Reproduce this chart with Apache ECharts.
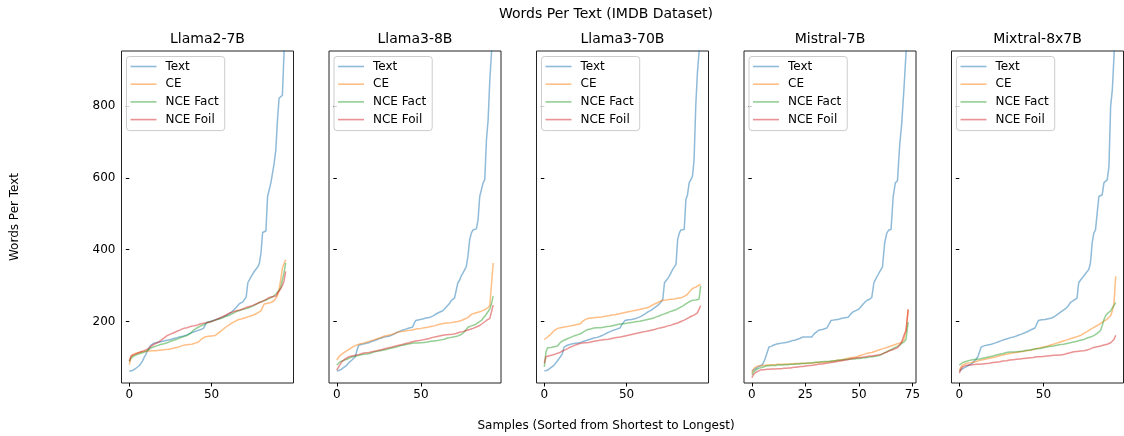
<!DOCTYPE html>
<html>
<head>
<meta charset="utf-8">
<script src="https://cdn.jsdelivr.net/npm/echarts@6/dist/echarts.min.js"></script>
<style>
  html, body { margin: 0; padding: 0; background: #fff; }
  #chart { width: 1124px; height: 436px; }
</style>
</head>
<body>
<div id="chart"></div>
<script>
// ---------------- DATA ----------------
const panelNames = ['Llama2-7B', 'Llama3-8B', 'Llama3-70B', 'Mistral-7B', 'Mixtral-8x7B'];
const seriesNames = ['Text', 'CE', 'NCE Fact', 'NCE Foil'];
const yTicks = [200, 400, 600, 800];
const xTicksDefault = [0, 50];
const xTicksMistral = [0, 25, 50, 75];

const llama2Text = [62,62,64,66,70,74,77,80,90,100,108,118,126,134,138,140,141,142,143,144,145,146,147,148,149,150,151,153,154,155,156,158,159,160,161,163,165,167,169,171,172,174,175,177,179,181,182,198,199,200,201,203,205,206,207,209,211,213,215,217,218,222,226,230,235,240,245,250,253,255,262,268,308,312,325,333,340,345,352,362,391,448,451,452,548,550,586,588,640,678,760,822,826,830,948,1100];
const llama2CE = [80,100,108,111,112,113,114,115,116,117,117,118,118,118,119,119,119,120,120,121,121,122,122,123,123,124,125,126,127,128,129,131,133,134,135,136,136,137,137,138,140,142,143,148,152,155,157,158,159,159,160,160,161,165,168,172,175,179,182,186,189,192,195,198,200,203,205,206,207,208,210,212,213,215,216,218,219,221,224,227,230,240,249,250,251,252,253,255,258,265,272,290,317,349,352,372];
const llama2Fact = [88,98,102,105,108,109,110,112,113,115,116,119,122,126,129,130,131,133,134,136,137,138,140,141,143,145,146,148,150,151,153,155,157,158,160,161,163,167,172,176,180,182,185,187,189,191,194,196,198,199,201,202,204,205,207,208,210,211,213,215,216,218,221,223,225,228,230,231,233,234,235,236,237,239,241,243,246,248,251,253,255,256,258,260,262,264,266,269,271,276,281,287,294,315,336,363];
const llama2Foil = [90,104,106,108,110,112,114,116,117,119,120,123,127,130,134,137,139,141,143,147,150,154,158,161,163,165,167,169,171,173,175,177,179,181,182,183,184,186,187,188,189,190,192,193,194,195,196,197,198,199,200,202,204,206,208,210,212,214,216,219,221,224,226,227,229,230,231,232,234,235,237,239,240,242,244,245,247,249,251,253,255,257,259,261,264,267,268,269,270,271,278,285,292,300,313,340];

const llama38Text = [62,63,65,68,72,76,79,85,90,93,98,102,120,134,136,137,138,139,140,141,143,145,147,148,150,152,153,155,157,158,158,159,160,163,166,168,171,172,174,176,178,179,180,182,183,184,195,203,204,205,206,207,209,210,210,211,212,215,218,221,224,226,228,230,235,240,244,250,258,262,265,267,308,315,327,335,344,353,382,427,446,455,456,458,483,548,552,586,595,706,762,873,948,1050];
const llama38CE = [93,100,106,110,113,116,119,122,125,128,131,134,135,136,138,139,140,142,143,145,146,148,149,150,152,153,155,157,159,160,161,162,163,164,166,168,170,171,172,172,173,174,175,175,176,177,178,179,180,181,181,182,183,183,184,185,186,187,188,190,191,192,193,194,195,195,196,197,197,198,199,199,200,201,203,205,207,209,211,215,220,221,223,224,226,228,229,230,233,236,239,245,250,363];
const llama38Fact = [79,84,88,90,92,93,95,97,100,102,103,104,105,106,107,108,109,109,110,111,112,113,115,116,117,118,119,120,121,122,123,124,126,127,128,129,130,131,133,134,135,136,137,138,139,139,140,140,140,141,141,142,142,143,143,144,145,146,146,147,147,148,149,150,151,152,154,155,156,157,158,159,160,162,164,166,172,178,184,186,188,189,191,194,197,200,203,209,215,221,228,235,250,271];
const llama38Foil = [65,73,81,88,93,96,99,102,103,104,105,106,107,108,110,111,112,113,114,114,115,116,117,118,119,120,121,122,124,125,126,127,128,129,131,132,133,134,135,136,138,139,140,141,142,144,145,146,147,147,148,149,150,151,152,153,155,156,157,158,159,160,161,162,163,163,164,164,165,165,166,167,168,170,171,172,174,175,177,178,180,181,183,185,187,189,192,196,199,203,206,209,212,246];

const llama370Text = [62,63,65,68,72,76,79,85,91,97,104,111,129,132,134,136,137,138,139,140,140,141,142,144,145,147,148,150,151,153,154,155,156,157,159,161,163,165,168,170,172,175,176,177,179,180,182,191,197,203,204,205,205,206,207,208,209,211,212,215,218,221,224,227,230,232,235,239,242,245,249,255,262,308,313,320,327,336,345,352,359,428,446,455,455,456,539,553,586,590,604,651,799,892,948,1100];
const llama370CE = [150,153,157,160,165,169,175,180,181,182,183,184,185,185,186,187,188,189,190,191,192,193,194,200,205,206,207,209,209,210,210,211,211,212,213,213,214,215,215,216,217,218,219,219,220,221,222,223,224,225,226,227,228,229,230,231,232,233,234,235,236,237,238,239,242,244,247,249,251,253,256,258,259,259,260,261,261,262,263,263,264,265,265,266,267,270,273,276,282,287,292,294,296,299,301,303];
const llama370Fact = [74,116,127,128,128,129,130,131,132,137,143,146,148,150,152,154,156,158,160,161,163,165,166,169,172,175,177,178,179,181,182,182,183,183,183,184,184,185,186,187,187,188,189,190,191,192,193,193,194,195,195,196,197,197,198,199,200,201,201,202,203,204,205,206,207,208,209,211,213,215,216,218,220,222,223,225,227,229,230,232,233,235,238,241,243,246,249,252,255,258,259,259,260,261,262,299];
const llama370Foil = [84,102,104,105,106,107,108,110,111,113,115,118,120,122,125,127,129,131,133,135,136,138,139,140,140,141,142,142,143,144,145,146,146,147,148,149,149,150,151,151,152,153,154,155,155,156,157,158,159,160,161,162,163,164,165,166,167,168,169,170,171,172,173,174,175,176,177,178,180,181,182,183,184,185,186,188,189,190,192,193,195,196,198,200,202,204,206,209,211,214,216,218,221,224,227,244];

const mistralText = [62,66,70,74,77,81,93,111,129,131,134,136,138,139,140,141,142,143,145,147,148,150,152,155,157,157,157,157,157,165,170,175,177,178,180,182,192,203,204,205,206,207,209,210,211,212,220,226,229,232,235,242,249,255,260,262,267,308,320,331,342,352,418,446,455,456,548,586,592,688,753,845,948,1100];
const mistralCE = [56,70,74,76,77,78,78,79,79,80,80,80,81,81,81,81,82,82,82,82,83,83,83,83,84,84,84,85,85,85,86,86,86,87,87,88,88,89,90,91,92,93,94,95,96,98,99,100,101,102,104,106,108,110,112,113,114,116,118,120,122,124,126,128,130,132,134,136,138,140,143,150,175,232];
const mistralFact = [52,60,66,69,71,73,75,77,77,78,78,78,79,79,79,80,80,80,81,81,81,82,82,83,83,83,84,85,85,86,87,87,88,88,89,89,89,90,90,91,92,92,93,94,95,95,96,96,96,97,97,98,99,99,100,101,102,103,104,105,107,110,113,116,119,122,125,128,131,134,139,143,150,198];
const mistralFoil = [44,54,59,62,65,66,66,67,67,68,68,68,69,69,69,70,70,71,71,72,73,73,74,75,75,76,77,78,78,79,80,81,82,82,83,84,85,86,87,88,89,90,91,92,93,94,96,97,98,99,99,100,101,102,103,104,104,105,106,107,108,110,113,115,118,120,122,125,127,135,143,162,175,235];

const mixtralText = [62,65,69,71,74,77,79,82,85,88,95,102,115,129,131,133,134,135,136,137,139,140,142,143,145,147,149,150,152,153,155,156,157,158,160,162,163,165,167,169,171,173,175,178,180,182,184,203,204,205,206,206,207,208,209,210,212,215,218,222,226,229,232,235,240,245,253,256,259,262,265,308,315,320,327,333,339,345,363,418,446,455,456,548,550,553,586,590,595,632,799,845,938,1100];
const mixtralCE = [65,73,79,81,83,84,85,86,87,88,89,90,92,93,94,95,96,97,98,99,100,101,102,104,105,106,107,108,109,110,111,112,113,113,114,115,116,117,117,118,119,119,120,121,122,123,125,126,127,128,129,130,131,133,134,135,137,138,140,141,143,144,146,147,149,150,152,153,155,156,158,160,161,164,167,169,172,175,178,181,184,186,189,192,195,198,201,204,207,212,216,230,250,326];
const mixtralFact = [79,83,86,88,89,90,92,93,94,94,95,95,96,97,98,99,100,101,102,103,104,106,107,108,109,110,111,112,114,114,115,115,115,116,116,117,117,118,118,119,120,120,121,122,123,123,124,125,125,126,127,128,129,130,131,131,132,133,134,135,136,137,137,138,139,140,141,142,143,144,145,146,148,149,150,152,154,155,157,159,161,164,167,171,175,189,205,216,222,226,230,238,245,253];
const mixtralFoil = [56,68,74,76,78,79,79,80,80,80,81,81,81,82,82,83,83,84,84,85,86,86,87,88,88,89,90,90,91,92,93,93,94,94,95,95,96,96,97,97,98,98,99,100,100,101,102,102,102,103,103,104,104,105,105,105,106,106,106,107,107,108,108,110,111,112,113,115,116,117,117,118,118,119,119,120,121,123,124,126,128,129,130,131,132,133,135,136,137,139,141,143,150,162];

const panelData = [
  [llama2Text, llama2CE, llama2Fact, llama2Foil],
  [llama38Text, llama38CE, llama38Fact, llama38Foil],
  [llama370Text, llama370CE, llama370Fact, llama370Foil],
  [mistralText, mistralCE, mistralFact, mistralFoil],
  [mixtralText, mixtralCE, mixtralFact, mixtralFoil]
];
const panelXTicks = [xTicksDefault, xTicksDefault, xTicksDefault, xTicksMistral, xTicksDefault];

// ---------------- LAYOUT / STYLE ----------------
const FONT = 'DejaVu Sans';
const COLORS = ['#1f77b4', '#ff7f0e', '#2ca02c', '#d62728'];
const LEGEND_COLORS = ['#8fbbd9', '#ffbf86', '#95cf95', '#ea9293'];
const PANEL_LEFTS = [121.5, 329, 536.5, 744, 951.5];
const PANEL_W = 172, PANEL_TOP = 51, PANEL_H = 332;
const Y_MIN = 29, Y_MAX = 953;

const grids = [], xAxes = [], yAxes = [], series = [], legends = [], graphics = [];

panelNames.forEach((name, p) => {
  const left = PANEL_LEFTS[p];
  const n = panelData[p][0].length;
  grids.push({
    left: left, top: PANEL_TOP, width: PANEL_W, height: PANEL_H,
    show: true, borderColor: '#222', borderWidth: 1, backgroundColor: 'transparent'
  });
  xAxes.push({
    type: 'value', gridIndex: p,
    min: -0.05 * (n - 1), max: 1.05 * (n - 1),
    axisLine: { show: false },
    splitLine: { show: false },
    axisTick: { show: true, length: 3.5, customValues: panelXTicks[p], lineStyle: { color: '#000', width: 1 } },
    axisLabel: { show: true, customValues: panelXTicks[p], margin: 6, fontFamily: FONT, fontSize: 12, color: '#000' }
  });
  yAxes.push({
    type: 'value', gridIndex: p,
    min: Y_MIN, max: Y_MAX,
    axisLine: { show: false },
    splitLine: { show: false },
    axisTick: { show: true, length: 3.5, customValues: yTicks, lineStyle: { color: '#000', width: 1 } },
    axisLabel: { show: p === 0, customValues: yTicks, margin: 6, fontFamily: FONT, fontSize: 12, color: '#000' }
  });
  seriesNames.forEach((sn, s) => {
    series.push({
      type: 'line', name: sn, xAxisIndex: p, yAxisIndex: p,
      data: panelData[p][s].map((v, i) => [i, v]),
      symbol: 'none', showSymbol: false,
      clip: true,
      color: COLORS[s],
      lineStyle: { color: COLORS[s], width: 1.5, opacity: 0.5 },
      emphasis: { disabled: true },
      z: 2 + s
    });
  });
  legends.push({
    orient: 'vertical',
    left: left + 5, top: PANEL_TOP + 5.5,
    data: seriesNames.map((sn, s) => ({
      name: sn, icon: 'rect',
      itemStyle: { color: LEGEND_COLORS[s], opacity: 1, borderWidth: 0 }
    })),
    itemWidth: 26, itemHeight: 1.6, itemGap: 5.7,
    padding: [4, 6, 5, 4],
    backgroundColor: 'rgba(255,255,255,0.8)',
    borderColor: '#cccccc', borderWidth: 1, borderRadius: 3,
    textStyle: { fontFamily: FONT, fontSize: 12, color: '#000', lineHeight: 12, padding: [0, 0, 0, 4] },
    selectedMode: false
  });
  graphics.push({
    type: 'text', x: left + PANEL_W / 2, y: 39,
    style: { text: name, textAlign: 'center', textVerticalAlign: 'middle', font: '14px "DejaVu Sans"', fill: '#000' }
  });
});

graphics.push({
  type: 'text', x: 606, y: 14,
  style: { text: 'Words Per Text (IMDB Dataset)', textAlign: 'center', textVerticalAlign: 'middle', font: '14px "DejaVu Sans"', fill: '#000' }
});
graphics.push({
  type: 'text', x: 606, y: 426,
  style: { text: 'Samples (Sorted from Shortest to Longest)', textAlign: 'center', textVerticalAlign: 'middle', font: '12px "DejaVu Sans"', fill: '#000' }
});
graphics.push({
  type: 'text', x: 15, y: 217, rotation: Math.PI / 2,
  style: { text: 'Words Per Text', textAlign: 'center', textVerticalAlign: 'middle', font: '12px "DejaVu Sans"', fill: '#000' }
});

const chart = echarts.init(document.getElementById('chart'), null, { renderer: 'canvas' });
chart.setOption({
  animation: false,
  backgroundColor: '#ffffff',
  grid: grids,
  xAxis: xAxes,
  yAxis: yAxes,
  legend: legends,
  series: series,
  graphic: graphics
});
</script>
</body>
</html>
